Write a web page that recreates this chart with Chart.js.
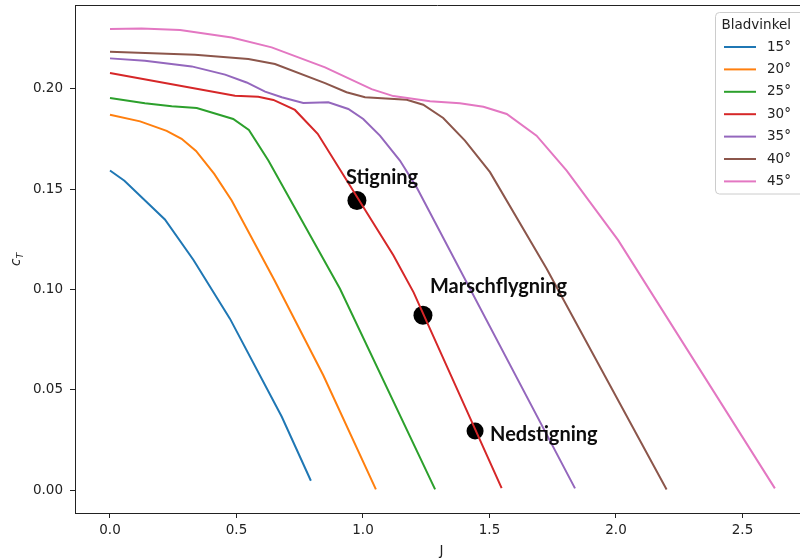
<!DOCTYPE html>
<html>
<head>
<meta charset="utf-8">
<script src="https://cdn.jsdelivr.net/npm/chart.js@4/dist/chart.umd.min.js"></script>
<style>
  html, body { margin: 0; padding: 0; background: #fff; overflow: hidden; }
  #wrap { width: 800px; height: 559px; }
</style>
</head>
<body>
<div id="wrap"><canvas id="c" width="800" height="559"></canvas></div>
<script>
// Blade angles and their colours
const angles = ['15°', '20°', '25°', '30°', '35°', '40°', '45°'];
const colors = ['#1f77b4', '#ff7f0e', '#2ca02c', '#d62728', '#9467bd', '#8c564b', '#e377c2'];

// Advance ratio J and thrust coefficient c_T for each blade angle
const j15 = [0, 0.057, 0.217, 0.33, 0.474, 0.679, 0.794];
const ct15 = [0.1592, 0.1541, 0.1348, 0.1146, 0.0854, 0.0365, 0.0046];

const j20 = [0, 0.119, 0.224, 0.283, 0.340, 0.412, 0.481, 0.65, 0.843, 1.051];
const ct20 = [0.187, 0.1837, 0.179, 0.175, 0.169, 0.1575, 0.1443, 0.1045, 0.0572, 0.0003];

const j25 = [0, 0.138, 0.244, 0.343, 0.487, 0.549, 0.626, 0.909, 1.285];
const ct25 = [0.1954, 0.1927, 0.1912, 0.1904, 0.1849, 0.1794, 0.1642, 0.1003, 0.0003];

const j30 = [0, 0.494, 0.586, 0.646, 0.731, 0.821, 1.12, 1.20, 1.548];
const ct30 = [0.2078, 0.1965, 0.196, 0.1944, 0.1894, 0.1775, 0.117, 0.0985, 0.0009];

const j35 = [0, 0.138, 0.323, 0.455, 0.54, 0.613, 0.679, 0.764, 0.863, 0.942, 1.001, 1.067, 1.146, 1.212, 1.838];
const ct35 = [0.2151, 0.2139, 0.2111, 0.207, 0.2031, 0.1985, 0.1957, 0.1929, 0.1932, 0.1899, 0.1849, 0.1766, 0.1642, 0.1509, 0.0008];

const j40 = [0, 0.336, 0.547, 0.652, 0.85, 0.935, 1.008, 1.173, 1.238, 1.317, 1.403, 1.502, 1.726, 2.2];
const ct40 = [0.2184, 0.2169, 0.2148, 0.2123, 0.2028, 0.1982, 0.1957, 0.1945, 0.192, 0.1854, 0.1741, 0.1584, 0.1103, 0.0003];

const j45 = [0, 0.125, 0.277, 0.481, 0.639, 0.85, 1.034, 1.12, 1.265, 1.383, 1.476, 1.568, 1.686, 1.805, 2.009, 2.628];
const ct45 = [0.2297, 0.230, 0.2292, 0.2255, 0.2206, 0.2106, 0.1998, 0.1963, 0.1937, 0.1927, 0.191, 0.1874, 0.1766, 0.1592, 0.1244, 0.0008];

// Flight phases marked on the 30° curve
const phaseNames = ['Stigning', 'Marschflygning', 'Nedstigning'];
const phaseJ = [0.976, 1.237, 1.443];
const phaseCt = [0.1443, 0.0871, 0.0294];

// Tick labels
const xTicks = [0, 0.5, 1.0, 1.5, 2.0, 2.5];
const yTicks = [0, 0.05, 0.10, 0.15, 0.20];

const jSeries = [j15, j20, j25, j30, j35, j40, j45];
const ctSeries = [ct15, ct20, ct25, ct30, ct35, ct40, ct45];

const FONT = 'DejaVu Sans';
const TXT = '#222';

const datasets = angles.map((a, i) => ({
  label: a,
  data: jSeries[i].map((x, k) => ({ x: x, y: ctSeries[i][k] })),
  borderColor: colors[i],
  backgroundColor: colors[i],
  borderWidth: 2,
  pointRadius: 0,
  tension: 0,
  fill: false,
  order: 6 - i
}));

datasets.push({
  label: 'phases',
  data: phaseJ.map((x, k) => ({ x: x, y: phaseCt[k] })),
  showLine: false,
  pointRadius: [9.5, 9.5, 8.5],
  pointBackgroundColor: '#000',
  pointBorderWidth: 0,
  order: 20
});

const overlay = {
  id: 'overlay',
  afterDraw(chart) {
    const ctx = chart.ctx;
    const area = chart.chartArea;
    const xs = chart.scales.x, ys = chart.scales.y;
    ctx.save();

    // top spine
    ctx.strokeStyle = TXT;
    ctx.lineWidth = 1;
    ctx.beginPath();
    ctx.moveTo(area.left, Math.round(area.top) + 0.5);
    ctx.lineTo(area.right, Math.round(area.top) + 0.5);
    ctx.stroke();

    // phase labels
    const offs = [[-11, -16], [7, -22], [15, 10]];
    ctx.fillStyle = '#0d0d0d';
    ctx.font = 'bold 20px Lato';
    ctx.textAlign = 'left';
    ctx.textBaseline = 'alphabetic';
    phaseNames.forEach((name, k) => {
      const px = xs.getPixelForValue(phaseJ[k]);
      const py = ys.getPixelForValue(phaseCt[k]);
      ctx.fillText(name, px + offs[k][0], py + offs[k][1]);
    });

    // x axis title
    ctx.fillStyle = TXT;
    ctx.font = '13.5px ' + FONT;
    ctx.textAlign = 'center';
    ctx.fillText('J', (area.left + 808) / 2, 555);

    // y axis title: italic c with subscript T
    ctx.save();
    ctx.translate(20, 259);
    ctx.rotate(-Math.PI / 2);
    ctx.textAlign = 'left';
    ctx.font = 'oblique 13.5px ' + FONT;
    const cw = ctx.measureText('c').width;
    ctx.fillText('c', -7, 0);
    ctx.font = 'oblique 9.5px ' + FONT;
    ctx.fillText('T', -7 + cw, 3);
    ctx.restore();

    // legend
    const lx = 715.5, ly = 12.5, lw = 110, lh = 181.5;
    ctx.beginPath();
    ctx.roundRect(lx, ly, lw, lh, 4);
    ctx.fillStyle = 'rgba(255,255,255,0.8)';
    ctx.fill();
    ctx.strokeStyle = '#cccccc';
    ctx.lineWidth = 1;
    ctx.stroke();

    ctx.fillStyle = TXT;
    ctx.font = '13.5px ' + FONT;
    ctx.textAlign = 'left';
    ctx.textBaseline = 'middle';
    ctx.fillText('Bladvinkel', 721.5, 25);
    angles.forEach((a, i) => {
      const y = 47 + i * 22.4;
      ctx.strokeStyle = colors[i];
      ctx.lineWidth = 2;
      ctx.beginPath();
      ctx.moveTo(724, y);
      ctx.lineTo(756, y);
      ctx.stroke();
      ctx.fillStyle = TXT;
      ctx.fillText(a, 767, y);
    });

    ctx.restore();
  }
};

new Chart(document.getElementById('c'), {
  type: 'line',
  data: { datasets: datasets },
  options: {
    responsive: false,
    animation: false,
    devicePixelRatio: 1,
    layout: { autoPadding: false, padding: { top: 5, left: 0, right: 0, bottom: 0 } },
    plugins: { legend: { display: false }, tooltip: { enabled: false } },
    scales: {
      x: {
        type: 'linear',
        min: -0.1383,
        max: 2.7273,
        afterBuildTicks: s => { s.ticks = xTicks.map(v => ({ value: v })); },
        afterFit: s => { s.height = 46; s.paddingLeft = 0; s.paddingRight = 0; },
        ticks: {
          callback: v => Number(v).toFixed(1),
          color: TXT,
          font: { family: FONT, size: 13.5 },
          padding: 4,
          maxRotation: 0,
          autoSkip: false
        },
        grid: { drawOnChartArea: false, drawTicks: true, tickLength: 5, color: TXT, lineWidth: 1 },
        border: { display: true, color: TXT, width: 1 }
      },
      y: {
        type: 'linear',
        min: -0.01146,
        max: 0.2417,
        afterBuildTicks: s => { s.ticks = yTicks.map(v => ({ value: v })); },
        afterFit: s => { s.width = 75; s.paddingTop = 0; s.paddingBottom = 0; },
        ticks: {
          callback: v => Number(v).toFixed(2),
          color: TXT,
          font: { family: FONT, size: 13.5 },
          padding: 7,
          autoSkip: false
        },
        grid: { drawOnChartArea: false, drawTicks: true, tickLength: 5, color: TXT, lineWidth: 1 },
        border: { display: true, color: TXT, width: 1 }
      }
    }
  },
  plugins: [overlay]
});
</script>
</body>
</html>
